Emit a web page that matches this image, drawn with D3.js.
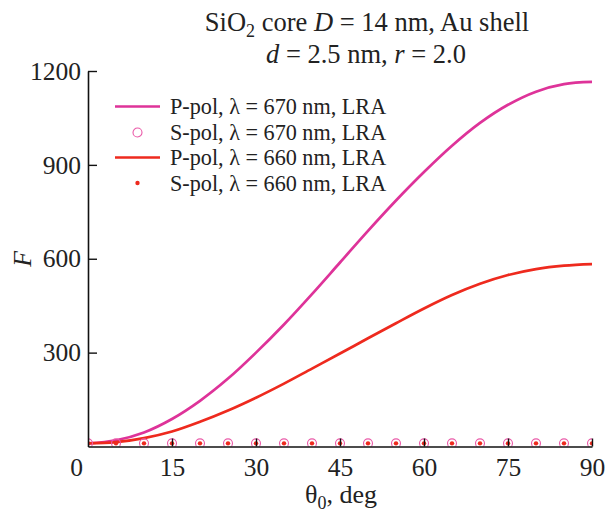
<!DOCTYPE html>
<html>
<head>
<meta charset="utf-8">
<script src="https://cdn.jsdelivr.net/npm/d3@7"></script>
<style>
  html, body { margin: 0; padding: 0; background: #fff; }
  svg { display: block; font-family: "Liberation Serif", "Times New Roman", serif; }
</style>
</head>
<body>
<svg id="chart" width="606" height="514"></svg>
<script>
// Incidence angle, deg
const theta = [0, 5, 10, 15, 20, 25, 30, 35, 40, 45, 50, 55, 60, 65, 70, 75, 80, 85, 90];
// Enhancement factor F
const pPol670 = [10, 20, 45, 88, 146, 217, 300, 390, 487, 588, 689, 786, 877, 961, 1034, 1092, 1134, 1158, 1165];
const pPol660 = [10, 14, 27, 48, 79, 115, 156, 201, 249, 297, 346, 394, 441, 484, 520, 548, 567, 578, 583];
const sPol670 = [10, 10, 10, 10, 10, 10, 10, 10, 10, 10, 10, 10, 10, 10, 10, 10, 10, 10, 10];
const sPol660 = [10, 10, 10, 10, 10, 10, 10, 10, 10, 10, 10, 10, 10, 10, 10, 10, 10, 10, 10];
const xTicks = [0, 15, 30, 45, 60, 75, 90];
const yTicks = [300, 600, 900, 1200];
const legendLabels = [
  "P-pol, λ = 670 nm, LRA",
  "S-pol, λ = 670 nm, LRA",
  "P-pol, λ = 660 nm, LRA",
  "S-pol, λ = 660 nm, LRA"
];

const PINK = "#de3399";
const RED = "#ee2a1e";

const svg = d3.select("#chart");
const W = 606, H = 514;
const margin = { top: 71, right: 14, bottom: 67.5, left: 88 };

const x = d3.scaleLinear().domain([0, 90]).range([margin.left, W - margin.right]);
const y = d3.scaleLinear().domain([0, 1200]).range([H - margin.bottom, margin.top]);

svg.append("defs").append("clipPath").attr("id", "plotClip")
  .append("rect")
  .attr("x", x(0)).attr("y", y(1200) - 10)
  .attr("width", x(90) - x(0)).attr("height", y(0) - y(1200) + 10);

const plot = svg.append("g").attr("clip-path", "url(#plotClip)");

const line = d3.line().curve(d3.curveCatmullRom.alpha(0.5));

function seriesPath(values) {
  return line(theta.map((t, i) => [x(t), y(values[i])]));
}

plot.append("path")
  .attr("d", seriesPath(pPol670))
  .attr("fill", "none").attr("stroke", PINK).attr("stroke-width", 2.7);

plot.append("path")
  .attr("d", seriesPath(pPol660))
  .attr("fill", "none").attr("stroke", RED).attr("stroke-width", 2.7);

plot.selectAll("circle.s670")
  .data(theta.map((t, i) => [t, sPol670[i]]))
  .join("circle").attr("class", "s670")
  .attr("cx", d => x(d[0])).attr("cy", d => y(d[1]))
  .attr("r", 4.5).attr("fill", "none").attr("stroke", "#ea5aa8").attr("stroke-width", 1.1);

plot.selectAll("circle.s660")
  .data(theta.map((t, i) => [t, sPol660[i]]))
  .join("circle").attr("class", "s660")
  .attr("cx", d => x(d[0])).attr("cy", d => y(d[1]))
  .attr("r", 2.2).attr("fill", RED);

// Axes, ticks pointing into the plot
const xAxis = svg.append("g")
  .attr("transform", `translate(0,${y(0)})`)
  .call(d3.axisBottom(x).tickValues(xTicks).tickSizeInner(-8).tickSizeOuter(0).tickPadding(11).tickFormat(d3.format("d")));

const yAxis = svg.append("g")
  .attr("transform", `translate(${x(0)},0)`)
  .call(d3.axisLeft(y).tickValues(yTicks).tickSizeInner(-9).tickSizeOuter(0).tickPadding(7).tickFormat(d3.format("d")));

[xAxis, yAxis].forEach(g => {
  g.select(".domain").attr("stroke", "#111").attr("stroke-width", 1.6);
  g.selectAll(".tick line").attr("stroke", "#111").attr("stroke-width", 1.4);
  g.selectAll(".tick text")
    .attr("font-family", "'Liberation Serif', 'Times New Roman', serif")
    .attr("font-size", 25.5).attr("fill", "#222");
});
// Hide the zero tick mark and nudge its label off the corner
xAxis.selectAll(".tick").filter(d => d === 0).select("line").remove();
xAxis.selectAll(".tick").filter(d => d === 0).select("text").attr("x", -12);

// Title
const title = svg.append("text")
  .attr("x", 367).attr("y", 31)
  .attr("text-anchor", "middle").attr("font-size", 26.5).attr("fill", "#222");
title.append("tspan").text("SiO");
title.append("tspan").attr("font-size", 18).attr("dy", 6).text("2");
title.append("tspan").attr("dy", -6).text(" core ");
title.append("tspan").attr("font-style", "italic").text("D");
title.append("tspan").text(" = 14 nm, Au shell");

const title2 = svg.append("text")
  .attr("x", 366).attr("y", 63)
  .attr("text-anchor", "middle").attr("font-size", 26.5).attr("fill", "#222");
title2.append("tspan").attr("font-style", "italic").text("d");
title2.append("tspan").text(" = 2.5 nm, ");
title2.append("tspan").attr("font-style", "italic").text("r");
title2.append("tspan").text(" = 2.0");

// Axis titles
svg.append("text")
  .attr("transform", `translate(31,${(y(0) + y(1200)) / 2}) rotate(-90)`)
  .attr("text-anchor", "middle")
  .attr("font-size", 26).attr("font-style", "italic").attr("fill", "#222")
  .text("F");

const xt = svg.append("text")
  .attr("x", 341).attr("y", 503)
  .attr("text-anchor", "middle").attr("font-size", 26).attr("fill", "#222");
xt.append("tspan").text("θ");
xt.append("tspan").attr("font-size", 18).attr("dy", 6).text("0");
xt.append("tspan").attr("dy", -6).text(", deg");

// Legend
const legend = svg.append("g");
const rowY = [106.5, 132.5, 157.5, 183];
const styles = [
  { kind: "line", color: PINK },
  { kind: "ring", color: "#ea5aa8" },
  { kind: "line", color: RED },
  { kind: "dot", color: RED }
];
legendLabels.forEach((label, i) => {
  const g = legend.append("g").attr("transform", `translate(0,${rowY[i]})`);
  const s = styles[i];
  if (s.kind === "line") {
    g.append("line").attr("x1", 115).attr("x2", 160).attr("y1", 0).attr("y2", 0)
      .attr("stroke", s.color).attr("stroke-width", 2.7);
  } else if (s.kind === "ring") {
    g.append("circle").attr("cx", 137.5).attr("cy", 0).attr("r", 4.5)
      .attr("fill", "none").attr("stroke", s.color).attr("stroke-width", 1.1);
  } else {
    g.append("circle").attr("cx", 137.5).attr("cy", 0).attr("r", 2.2).attr("fill", s.color);
  }
  g.append("text").attr("x", 170).attr("y", 7.5)
    .attr("font-size", 22.2).attr("fill", "#222").text(label);
});
</script>
</body>
</html>
